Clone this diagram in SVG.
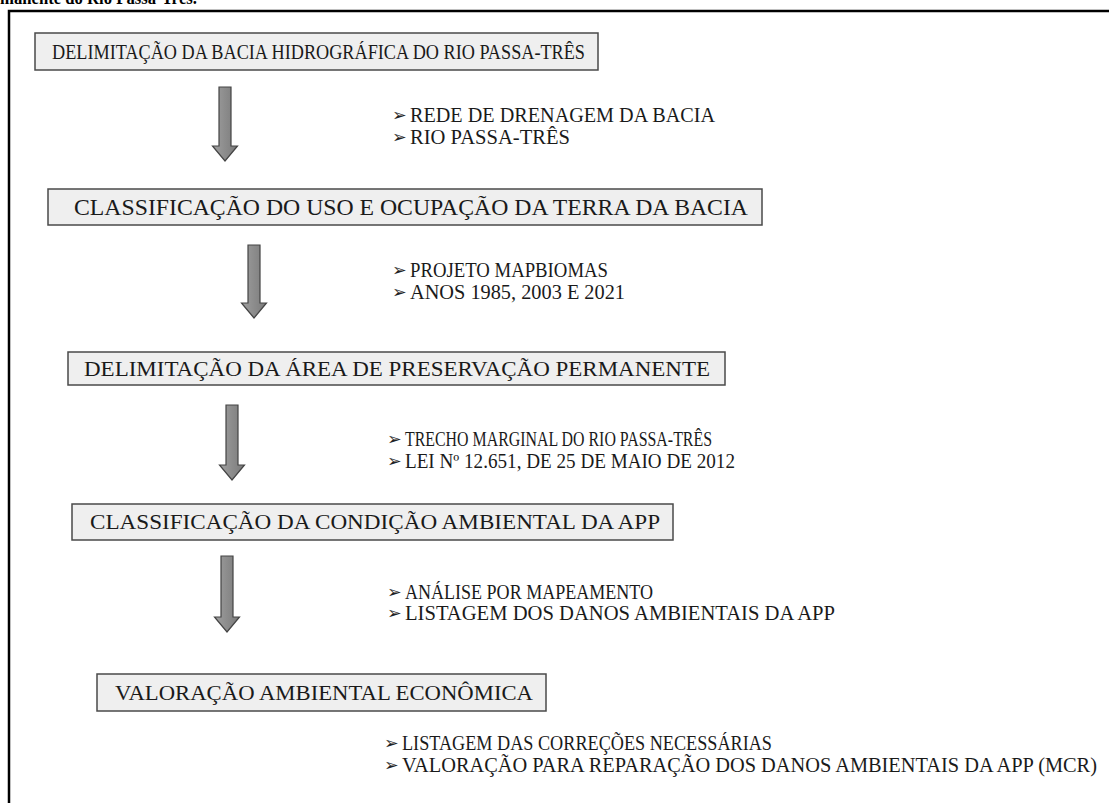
<svg xmlns="http://www.w3.org/2000/svg" width="1109" height="803" viewBox="0 0 1109 803">
<defs>
<linearGradient id="ag" x1="0" y1="0" x2="1" y2="0">
<stop offset="0" stop-color="#a0a0a0"/>
<stop offset="0.5" stop-color="#8c8c8c"/>
<stop offset="1" stop-color="#7a7a7a"/>
</linearGradient>
<style>
.box{fill:#efefef;stroke:#4a4a4a;stroke-width:1.5}
.bt{font-family:"Liberation Serif","Times New Roman",serif;font-size:22px;fill:#1a1a1a}
.lt{font-family:"Liberation Serif","Times New Roman",serif;font-size:20px;fill:#1a1a1a}
.bu{font-family:"DejaVu Sans",sans-serif;font-size:17.5px;fill:#222}
.arr{fill:url(#ag);stroke:#444;stroke-width:1.2}
.cap{font-family:"Liberation Serif","Times New Roman",serif;font-size:18px;font-weight:bold;fill:#000}
</style>
</defs>
<rect width="1109" height="803" fill="#fff"/>
<text class="cap" x="0" y="4" textLength="197" lengthAdjust="spacingAndGlyphs">manente do Rio Passa-Três.</text>
<path d="M9,803 V11 H1109" fill="none" stroke="#000" stroke-width="2.5"/>

<g id="node1">
<rect class="box" x="35" y="33" width="563" height="37"/>
<text class="bt" x="52" y="59" style="font-size:21.5px" textLength="533" lengthAdjust="spacingAndGlyphs">DELIMITAÇÃO  DA BACIA HIDROGRÁFICA DO RIO PASSA-TRÊS</text>
</g>
<g id="node2">
<rect class="box" x="48" y="189" width="714" height="36"/>
<text class="bt" x="74" y="215" style="font-size:23px" textLength="674" lengthAdjust="spacingAndGlyphs">CLASSIFICAÇÃO  DO USO E OCUPAÇÃO DA TERRA DA BACIA</text>
</g>
<g id="node3">
<rect class="box" x="68" y="352" width="657" height="33"/>
<text class="bt" x="84" y="376" textLength="626" lengthAdjust="spacingAndGlyphs">DELIMITAÇÃO  DA ÁREA DE PRESERVAÇÃO  PERMANENTE</text>
</g>
<g id="node4">
<rect class="box" x="72" y="504" width="601" height="36"/>
<text class="bt" x="90" y="529" textLength="570" lengthAdjust="spacingAndGlyphs">CLASSIFICAÇÃO DA CONDIÇÃO AMBIENTAL  DA APP</text>
</g>
<g id="node5">
<rect class="box" x="97" y="674" width="449" height="37"/>
<text class="bt" x="115" y="700" textLength="418" lengthAdjust="spacingAndGlyphs">VALORAÇÃO  AMBIENTAL  ECONÔMICA</text>
</g>

<g id="connectors">
<path class="arr" d="M219,87 H231 V146 H237.5 L225,161 L212.5,146 H219 Z"/>
<path class="arr" d="M248,245 H260 V303 H266.5 L254,318 L241.5,303 H248 Z"/>
<path class="arr" d="M226,405 H238 V465 H244.5 L232,480 L219.5,465 H226 Z"/>
<path class="arr" d="M221,556 H233 V617 H239.5 L227,632 L214.5,617 H221 Z"/>
</g>

<g id="notes1">
<text class="bu" x="392" y="121">➢</text><text class="lt" x="410" y="122" textLength="305" lengthAdjust="spacingAndGlyphs">REDE DE DRENAGEM DA BACIA</text>
<text class="bu" x="392" y="143">➢</text><text class="lt" x="410" y="144" textLength="160" lengthAdjust="spacingAndGlyphs">RIO PASSA-TRÊS</text>
</g>
<g id="notes2">
<text class="bu" x="392" y="276">➢</text><text class="lt" x="410" y="277" textLength="198" lengthAdjust="spacingAndGlyphs">PROJETO MAPBIOMAS</text>
<text class="bu" x="392" y="298">➢</text><text class="lt" x="410" y="299" textLength="215" lengthAdjust="spacingAndGlyphs">ANOS 1985, 2003 E 2021</text>
</g>
<g id="notes3">
<text class="bu" x="387" y="445">➢</text><text class="lt" x="405" y="446" textLength="307" lengthAdjust="spacingAndGlyphs">TRECHO MARGINAL DO RIO PASSA-TRÊS</text>
<text class="bu" x="387" y="467">➢</text><text class="lt" x="405" y="468" textLength="330" lengthAdjust="spacingAndGlyphs">LEI Nº 12.651, DE 25 DE MAIO DE 2012</text>
</g>
<g id="notes4">
<text class="bu" x="387" y="598">➢</text><text class="lt" x="405" y="599" textLength="248" lengthAdjust="spacingAndGlyphs">ANÁLISE POR MAPEAMENTO</text>
<text class="bu" x="387" y="619">➢</text><text class="lt" x="405" y="620" textLength="430" lengthAdjust="spacingAndGlyphs">LISTAGEM DOS DANOS AMBIENTAIS DA APP</text>
</g>
<g id="notes5">
<text class="bu" x="384" y="749">➢</text><text class="lt" x="402" y="750" textLength="370" lengthAdjust="spacingAndGlyphs">LISTAGEM DAS CORREÇÕES NECESSÁRIAS</text>
<text class="bu" x="384" y="771">➢</text><text class="lt" x="402" y="772" textLength="695" lengthAdjust="spacingAndGlyphs">VALORAÇÃO PARA REPARAÇÃO DOS DANOS AMBIENTAIS  DA APP (MCR)</text>
</g>
</svg>
